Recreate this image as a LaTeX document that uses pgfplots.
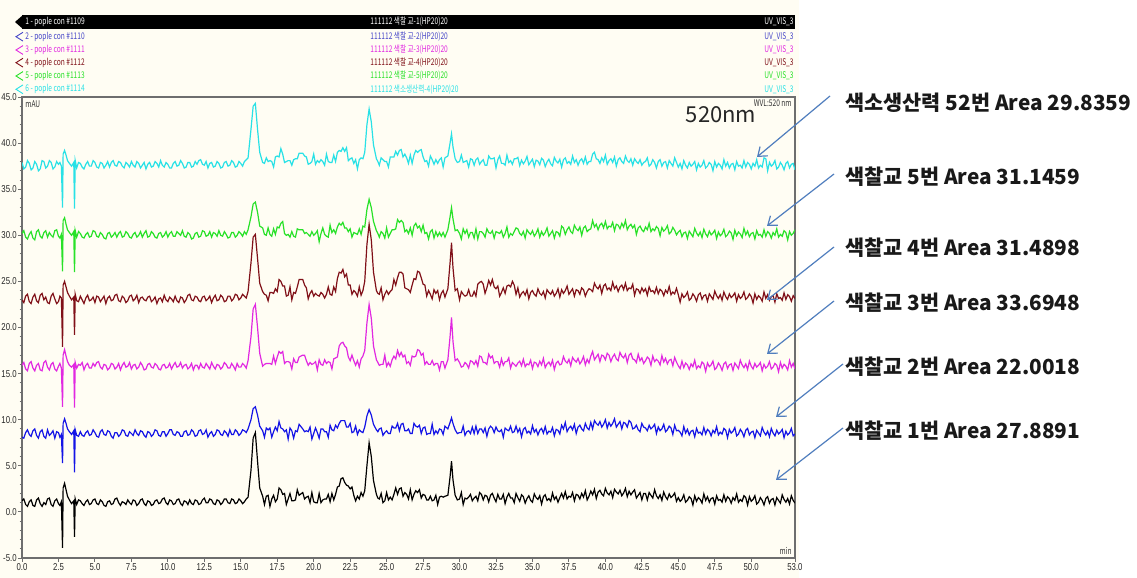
\documentclass[border=0pt]{standalone}
\usepackage{fontspec}
\usepackage{pgfplots}
\pgfplotsset{compat=1.18}
\usepackage{pgfplotstable}
\usetikzlibrary{arrows.meta}
\setmainfont{Liberation Sans}
\newfontfamily\kr{Noto Sans CJK KR}
\newfontfamily\hdr[FakeStretch=0.72]{Noto Sans CJK KR}
\newfontfamily\tk[FakeStretch=0.78]{Liberation Sans}
\definecolor{cream}{RGB}{255,253,243}
\definecolor{cB}{RGB}{20,20,230}
\definecolor{cC}{RGB}{225,40,225}
\definecolor{cD}{RGB}{128,16,24}
\definecolor{cE}{RGB}{40,225,40}
\definecolor{cF}{RGB}{40,225,230}
\definecolor{hB}{RGB}{70,70,200}
\definecolor{steel}{RGB}{80,126,190}
\definecolor{axgray}{RGB}{110,110,110}

\pgfplotstableread{
t a b c d e f
0.00 1.2 8.1 15.9 23.0 30.2 37.9
0.125 1.4 8.0 16.2 22.7 30.5 37.2
0.25 0.8 8.6 15.5 23.4 29.8 37.4
0.375 0.6 8.9 15.3 23.6 29.6 38.1
0.50 1.1 8.4 16.1 22.8 30.1 37.8
0.625 1.3 8.2 16.3 22.6 30.4 37.1
0.75 0.7 8.8 15.6 23.3 29.7 37.3
0.875 0.6 9.0 15.3 23.6 29.5 38.0
1.00 1.3 8.3 15.9 22.9 30.4 37.7
1.125 1.5 8.0 16.1 22.7 30.6 37.0
1.25 0.9 8.7 15.4 23.5 29.9 37.2
1.375 0.6 8.9 15.3 23.7 29.7 38.1
1.50 1.0 8.2 16.2 23.0 30.3 38.0
1.625 0.8 8.0 16.4 23.3 30.5 37.3
1.75 1.4 8.9 15.7 22.7 29.8 37.5
1.875 1.5 8.3 15.4 22.6 30.3 38.1
2.00 0.8 8.5 16.0 23.4 30.0 37.9
2.125 0.6 8.8 16.2 23.7 29.8 37.2
2.25 1.2 8.0 15.5 23.1 30.5 37.4
2.375 1.4 8.7 15.3 22.6 30.6 38.0
2.50 0.9 8.6 15.8 22.8 29.9 37.7
2.60 0.7 8.1 16.1 23.4 29.7 37.9
2.70 1.1 8.4 15.6 23.2 30.1 37.5
2.78 -3.9 5.3 11.4 17.9 26.1 33.0
2.82 2.6 9.6 17.0 24.6 31.6 38.8
2.92 3.1 10.1 17.6 25.0 31.9 39.2
3.02 2.4 9.6 16.9 24.4 31.2 38.7
3.12 1.7 9.0 16.3 23.8 30.6 38.1
3.25 1.3 8.7 15.9 23.4 30.3 37.8
3.40 0.9 8.4 15.7 23.0 30.0 37.5
3.55 1.2 8.8 16.0 23.3 30.4 37.9
3.60 -2.7 4.3 11.3 19.2 26.0 32.9
3.65 1.4 8.9 16.2 23.6 30.5 38.1
3.75 0.8 8.3 15.6 22.9 29.8 37.3
3.875 1.3 8.2 16.0 22.8 30.4 37.9
4.00 1.2 8.7 15.9 23.4 30.2 37.8
4.125 0.9 8.3 16.2 23.0 29.8 37.4
4.25 0.7 8.2 15.4 22.6 29.7 37.2
4.375 1.1 8.6 15.9 23.2 30.1 37.7
4.50 1.3 8.8 16.1 23.5 30.3 38.0
4.625 0.8 8.3 15.6 22.9 29.8 37.5
4.75 0.9 8.4 15.6 23.0 29.9 37.5
4.875 1.3 8.9 16.1 23.3 30.5 38.1
5.00 1.4 8.6 15.8 22.7 30.4 37.9
5.125 0.9 8.2 16.2 23.4 29.9 37.4
5.25 0.8 8.1 16.3 23.3 29.8 37.3
5.375 1.3 8.7 15.7 22.8 30.3 37.9
5.50 1.1 8.9 15.5 23.1 30.1 37.8
5.625 0.7 8.4 16.0 23.4 29.7 37.3
5.75 0.6 8.3 15.9 22.6 29.6 37.6
5.875 1.1 8.8 15.4 23.2 30.2 38.0
6.00 1.2 8.7 15.6 23.4 30.3 37.4
6.125 0.8 8.2 16.1 22.9 29.8 37.9
6.25 0.9 8.0 16.0 23.0 30.0 38.1
6.375 1.4 8.6 15.5 23.5 30.3 37.6
6.50 1.5 8.6 15.7 23.6 29.8 37.5
6.625 1.0 8.2 16.1 22.9 30.2 38.0
6.75 0.7 8.4 15.4 22.8 30.4 37.9
6.875 1.1 8.9 15.9 23.4 29.8 37.5
7.00 1.0 8.8 16.2 23.2 29.9 37.3
7.125 0.8 8.3 15.7 22.7 30.4 37.9
7.25 1.3 8.2 15.8 22.9 30.2 37.7
7.375 1.0 8.7 16.2 23.4 29.8 37.4
7.50 0.8 8.5 15.5 23.5 29.7 38.0
7.625 1.3 8.3 15.9 22.9 30.1 37.6
7.75 1.2 8.9 16.0 23.1 30.3 37.4
7.875 0.7 8.5 15.5 23.5 29.8 38.0
8.00 0.9 8.3 15.7 22.7 30.0 37.8
8.125 1.3 8.8 16.2 23.2 30.4 37.3
8.25 1.4 8.7 15.9 23.3 29.8 37.6
8.375 0.9 8.3 15.4 23.0 30.2 37.9
8.50 0.7 8.1 15.5 22.9 30.5 37.2
8.625 1.2 8.7 16.0 23.3 29.8 37.7
8.75 1.1 8.6 16.1 23.4 29.9 37.9
8.875 0.7 8.2 15.7 22.8 30.4 37.4
9.00 0.8 8.4 15.6 23.0 30.2 37.5
9.125 1.2 8.9 16.1 23.3 29.8 38.0
9.25 1.3 8.8 15.9 22.6 29.7 37.8
9.375 0.9 8.3 15.5 23.1 30.2 37.4
9.50 1.0 8.2 15.4 23.2 30.3 38.1
9.625 1.4 8.7 15.9 22.8 29.8 37.6
9.75 1.5 8.7 16.0 23.5 30.0 37.4
9.875 1.0 8.2 15.6 23.0 30.4 37.9
10.00 0.8 8.5 15.7 22.8 29.8 37.7
10.125 1.3 8.9 16.1 23.3 30.2 37.3
10.25 1.2 8.9 15.5 23.1 30.4 37.3
10.375 0.8 8.4 15.9 22.8 29.9 37.8
10.50 0.9 8.3 16.2 23.4 29.9 38.0
10.625 1.3 8.7 15.7 22.9 30.4 37.5
10.75 1.4 8.6 15.8 22.7 30.2 37.6
10.875 0.9 8.2 16.2 23.3 30.0 38.1
11.00 0.7 8.2 15.6 23.2 30.5 37.8
11.125 1.2 8.7 15.9 22.7 29.9 37.3
11.25 1.1 8.8 16.0 23.0 29.8 37.4
11.375 0.8 8.3 15.5 23.5 30.3 37.9
11.50 1.3 8.4 15.7 23.6 30.1 37.9
11.625 0.9 8.9 16.1 23.0 29.6 37.4
11.75 0.8 8.7 15.4 22.9 29.7 37.5
11.875 1.3 8.2 15.9 23.4 30.2 38.0
12.00 1.2 8.3 15.9 23.3 30.3 37.7
12.125 0.8 8.8 15.5 22.9 29.8 38.1
12.25 0.9 8.9 16.1 22.8 29.9 38.2
12.375 1.3 8.4 15.7 23.3 30.5 37.7
12.50 1.5 8.5 15.6 23.4 30.4 37.6
12.625 1.0 8.9 16.1 22.9 29.9 38.0
12.75 1.0 8.1 15.8 23.1 30.0 37.3
12.875 1.4 8.5 15.5 23.4 30.4 37.8
13.00 1.3 8.7 16.2 22.7 29.8 37.9
13.125 0.9 8.2 15.8 23.2 30.3 37.4
13.25 0.8 8.4 15.5 23.5 30.2 37.5
13.375 1.3 8.9 16.0 22.9 29.9 38.0
13.50 1.2 8.8 15.9 23.0 30.5 37.8
13.625 0.8 8.4 15.5 23.5 30.0 37.3
13.75 1.0 8.3 15.7 23.3 29.9 37.4
13.875 1.4 8.8 16.2 22.8 30.4 37.9
14.00 1.4 8.6 16.0 22.9 30.1 38.0
14.125 1.0 8.2 15.6 23.4 29.7 37.5
14.25 0.9 8.9 15.6 23.4 29.8 37.6
14.375 1.4 8.4 16.1 22.9 30.3 38.1
14.50 1.3 8.4 15.8 23.1 30.3 37.9
14.625 0.9 8.9 15.4 23.6 29.8 37.4
14.75 1.0 8.7 16.1 23.5 30.0 37.5
14.875 1.4 8.3 15.7 23.0 30.4 38.0
15.00 1.2 8.5 15.7 23.2 30.2 37.8
15.125 0.9 8.9 16.1 23.6 29.9 37.5
15.25 1.1 8.8 15.9 23.4 30.4 38.0
15.375 1.4 8.6 15.6 23.2 30.1 38.2
15.50 1.6 9.0 16.4 23.9 30.6 38.4
15.70 4.5 10.0 19.0 27.0 32.0 41.5
15.85 8.0 11.2 22.0 29.8 33.4 44.0
16.00 8.6 11.4 22.5 30.1 33.6 44.3
16.15 5.5 10.5 20.0 27.5 32.5 41.5
16.30 2.6 9.3 17.2 24.8 31.0 39.0
16.50 1.7 8.8 15.8 23.9 30.8 37.9
16.625 0.8 8.1 16.0 23.6 30.1 37.8
16.75 1.7 9.1 16.1 23.5 30.0 38.4
16.875 1.8 8.9 16.1 22.9 30.8 38.0
17.00 0.6 9.1 16.1 23.8 30.1 38.1
17.125 1.4 8.1 16.0 23.8 29.9 38.0
17.25 1.8 8.7 16.9 23.7 30.7 37.4
17.375 1.1 9.2 16.1 24.2 30.1 38.5
17.50 1.4 8.8 16.8 23.9 30.9 38.6
17.625 2.6 9.8 17.4 25.2 30.8 38.5
17.75 2.4 9.1 17.2 25.0 31.3 39.4
17.875 1.9 9.0 17.4 24.5 31.5 38.8
18.00 2.0 8.7 16.1 24.5 30.2 37.9
18.125 0.8 8.9 16.3 23.4 30.0 38.0
18.25 1.4 7.9 16.3 23.5 30.1 38.1
18.375 2.0 9.1 16.2 24.4 29.8 38.1
18.50 1.2 8.8 15.5 23.0 30.4 37.6
18.625 1.2 8.0 16.6 23.8 29.9 38.2
18.75 1.3 8.8 16.2 23.7 29.8 38.3
18.875 2.4 8.7 16.2 24.4 30.7 38.3
19.00 1.8 9.5 16.8 25.2 30.6 38.9
19.25 2.1 9.0 17.0 25.2 30.6 38.9
19.375 1.4 8.7 17.0 24.6 30.2 38.6
19.50 1.6 8.8 16.4 24.3 30.3 38.5
19.625 1.7 8.7 15.9 23.1 30.1 37.7
19.75 1.0 9.2 16.2 23.7 29.9 37.8
19.875 2.1 7.9 16.0 24.0 30.4 38.0
20.00 1.1 8.5 16.1 23.4 30.0 38.8
20.125 1.0 9.1 16.3 23.7 30.2 37.7
20.25 1.0 8.6 15.4 23.5 30.5 38.1
20.375 2.0 8.0 16.5 23.4 29.3 37.9
20.50 1.0 9.0 16.0 23.8 30.2 38.2
20.625 1.3 9.0 15.9 23.6 30.8 38.0
20.75 1.4 8.7 16.5 23.2 30.1 37.6
20.875 1.4 8.7 16.1 23.6 29.9 38.8
21.00 1.9 8.1 16.3 24.4 29.8 38.0
21.125 1.1 9.4 16.2 23.6 31.1 37.9
21.25 2.0 8.9 15.5 23.5 30.3 37.9
21.375 1.3 8.8 16.6 24.4 30.6 38.7
21.50 1.9 9.4 16.7 23.9 30.2 38.0
21.625 2.7 9.1 16.8 25.3 30.9 39.0
21.75 2.8 9.6 18.0 26.0 31.3 39.2
21.875 3.6 9.9 18.3 25.9 31.1 39.1
22.00 3.7 9.9 18.4 26.3 31.4 39.5
22.125 3.2 9.9 18.0 25.5 30.8 39.1
22.25 2.9 9.2 17.8 25.8 30.8 39.5
22.375 2.8 9.2 16.8 24.6 30.4 38.1
22.50 2.5 9.6 16.4 24.6 30.7 38.3
22.625 2.7 8.6 17.0 23.6 29.8 38.4
22.75 1.8 8.7 16.4 24.0 30.3 37.8
22.875 1.2 9.3 15.9 23.8 30.2 38.2
23.00 1.7 8.4 16.4 23.4 30.1 37.2
23.125 1.4 8.9 15.7 24.4 30.7 38.2
23.25 2.1 8.7 16.6 23.5 30.1 38.4
23.375 1.7 8.6 16.9 24.0 31.0 38.3
23.50 2.3 9.2 17.5 25.0 30.9 39.0
23.65 5.0 10.4 20.5 29.0 32.8 42.0
23.80 7.5 11.1 22.5 31.2 33.9 43.7
23.95 6.0 10.5 21.0 29.5 33.0 42.3
24.10 3.4 9.5 18.0 26.0 31.5 39.8
24.30 1.9 8.9 16.5 24.0 30.5 38.3
24.40 1.5 8.7 16.2 23.7 30.2 38.0
24.50 1.4 9.0 15.9 23.6 29.8 37.6
24.625 2.0 9.1 16.0 24.3 30.4 38.4
24.75 1.0 8.3 16.0 23.0 30.2 38.2
24.875 1.2 8.6 17.0 23.6 29.7 38.0
25.00 2.1 8.8 15.8 24.0 30.8 38.0
25.125 1.3 8.5 16.2 23.6 29.8 37.4
25.25 1.6 8.5 15.8 23.9 30.2 38.5
25.375 1.3 9.3 16.5 24.1 30.6 38.5
25.50 1.9 9.1 16.9 25.2 30.6 38.5
25.625 2.6 9.1 16.6 24.6 30.7 39.1
25.75 1.9 9.6 17.5 25.4 31.7 38.7
25.875 2.5 8.8 16.9 26.0 31.4 39.2
26.00 2.6 9.5 17.3 26.0 31.6 39.3
26.125 1.7 9.6 16.8 25.8 31.4 38.5
26.25 2.1 8.8 17.0 24.3 30.4 38.8
26.375 1.9 8.8 16.1 24.2 30.6 38.4
26.50 1.4 9.0 16.3 24.1 30.2 37.8
26.625 2.4 8.5 15.9 23.8 30.8 38.7
26.75 1.3 8.5 16.9 24.6 30.0 37.8
26.875 1.9 9.6 16.8 25.3 31.0 38.7
27.00 2.3 9.3 16.9 25.2 31.3 39.2
27.125 2.1 9.2 17.6 26.1 30.8 39.0
27.25 2.4 9.4 17.5 26.0 31.0 39.2
27.375 1.5 8.5 17.0 25.4 30.4 39.3
27.50 1.9 9.1 17.2 24.7 31.1 38.5
27.625 1.8 9.2 16.0 24.6 30.2 38.0
27.75 1.3 8.4 16.3 23.4 30.3 38.1
27.875 1.3 8.5 16.0 24.0 29.6 37.5
28.00 1.7 8.5 16.0 23.6 30.4 38.6
28.125 1.2 9.5 16.4 23.1 30.6 38.2
28.25 1.3 8.4 15.9 24.1 29.7 37.7
28.375 1.8 8.8 16.1 23.7 30.4 38.2
28.50 0.8 8.5 16.1 24.0 29.9 37.8
28.625 1.6 9.0 15.4 23.0 30.3 38.2
28.75 1.7 8.9 16.3 23.7 29.9 38.4
28.875 1.6 8.4 16.3 24.0 30.3 37.4
29.00 1.7 9.3 15.6 23.3 29.8 38.4
29.20 1.8 9.0 16.5 24.2 30.6 38.6
29.35 3.8 9.7 19.0 27.0 32.0 40.0
29.45 5.5 10.2 21.1 29.2 33.0 41.0
29.55 3.5 9.6 18.5 26.5 31.8 39.6
29.70 1.8 8.9 16.4 24.0 30.5 38.3
29.85 1.3 8.5 16.6 24.2 30.6 37.9
30.00 1.4 8.6 16.2 23.0 30.2 38.0
30.125 2.1 8.6 15.7 23.9 29.6 38.7
30.25 0.8 9.3 15.8 23.6 30.7 37.9
30.375 1.5 8.3 16.2 23.4 30.2 38.0
30.50 1.4 8.7 16.0 23.5 30.6 38.1
30.625 1.6 8.8 15.6 24.1 29.8 37.4
30.75 1.9 8.5 16.4 23.4 30.3 38.3
30.875 1.2 9.2 16.3 23.4 30.3 38.2
31.00 1.5 8.5 16.0 23.9 29.7 37.6
31.125 1.7 9.3 16.4 23.4 30.7 38.2
31.25 1.2 8.5 15.8 24.7 29.6 38.4
31.375 2.1 9.0 16.9 24.9 30.4 37.7
31.50 1.9 9.0 16.8 25.0 30.4 38.0
31.625 1.3 8.6 16.2 24.7 30.2 38.2
31.75 1.8 9.1 16.2 23.7 29.8 37.6
31.875 1.7 8.2 16.0 24.3 30.7 37.6
32.00 1.1 9.0 17.1 25.1 30.3 38.6
32.125 1.8 9.3 16.7 24.6 30.2 38.3
32.25 2.0 9.1 16.9 25.2 30.5 38.3
32.375 1.5 8.6 16.1 24.4 29.7 38.4
32.50 1.1 9.2 16.3 24.2 30.4 37.3
32.625 1.9 8.8 16.3 24.5 30.3 38.2
32.75 1.4 8.7 15.7 23.4 30.2 38.6
32.875 1.4 8.9 16.6 23.8 30.5 37.8
33.00 1.9 8.1 15.9 24.3 29.8 37.8
33.125 0.9 9.1 16.3 23.7 30.2 37.6
33.25 1.6 8.9 16.3 24.5 30.9 38.7
33.375 2.0 8.8 16.7 24.6 29.8 37.9
33.50 1.5 9.3 15.6 24.4 30.2 38.1
33.625 1.5 8.6 16.2 25.0 30.0 37.7
33.75 1.0 8.7 16.0 24.6 30.4 38.3
33.875 2.0 9.3 15.8 23.6 30.8 38.3
34.000 1.55 8.65 16.15 24.3 30.7 38.45
34.125 1.15 9.05 16.35 23.3 30.2 37.55
34.250 1.85 8.15 15.85 23.7 30.0 38.15
34.375 1.65 8.95 16.55 23.9 30.4 37.75
34.500 0.95 9.15 15.75 23.5 29.7 38.05
34.625 1.45 8.55 16.05 24.1 30.6 38.55
34.750 1.75 8.75 15.95 23.1 30.3 37.65
34.875 1.25 8.45 16.45 23.8 30.1 37.95
35.000 1.05 9.35 15.55 24.0 30.5 38.25
35.125 1.95 8.65 16.25 23.6 29.9 37.45
35.250 1.55 8.95 16.15 23.4 30.2 38.15
35.375 1.35 8.35 15.75 24.2 30.7 38.05
35.500 1.75 8.85 16.35 23.7 29.8 37.65
35.625 0.85 9.05 15.95 23.5 30.4 38.35
35.750 1.65 8.55 16.65 23.9 30.0 38.15
35.875 1.85 9.25 15.65 23.2 30.3 37.45
36.000 1.25 8.45 16.05 24.1 30.8 37.95
36.125 1.45 8.75 16.25 23.8 29.9 38.25
36.250 1.15 8.65 15.85 23.6 30.2 37.75
36.375 2.05 9.15 16.45 24.0 30.5 37.55
36.500 1.35 8.25 15.45 23.4 29.7 38.45
36.625 1.65 8.95 16.15 23.7 30.4 38.05
36.750 1.05 8.85 16.35 24.2 30.3 37.85
36.875 1.55 8.45 15.95 23.3 29.9 38.25
37.000 2.0 9.4 16.05 24.1 31.0 37.4
37.125 1.5 9.0 16.85 23.7 30.8 38.2
37.250 2.2 9.7 16.35 24.0 30.1 38.4
37.375 1.4 8.7 16.15 24.5 30.6 37.8
37.500 1.7 9.1 16.55 23.6 30.9 38.0
37.625 1.6 9.3 15.85 23.9 30.4 37.7
37.750 2.1 8.9 16.75 24.2 30.2 38.6
37.875 1.2 9.5 16.45 23.4 31.1 37.9
38.000 1.9 8.5 16.25 24.1 30.7 38.2
38.125 1.8 9.2 16.65 24.0 30.5 37.6
38.250 1.4 9.4 16.05 23.6 30.9 38.1
38.375 2.0 9.0 16.35 24.3 30.0 38.3
38.500 1.6 8.8 16.85 24.1 30.8 37.8
38.625 2.3 9.6 15.95 23.4 31.0 38.5
38.750 1.3 9.1 16.55 23.9 30.4 37.7
38.875 1.7 8.9 16.15 24.2 30.6 38.0
39.000 2.25 9.7 16.9 24.1 30.7 38.0
39.125 1.85 9.0 17.4 23.9 31.6 38.8
39.250 2.45 9.9 16.5 24.8 30.9 39.0
39.375 1.45 9.6 16.8 24.4 31.2 38.3
39.500 2.15 9.4 17.1 24.2 30.6 38.2
39.625 2.35 9.8 16.3 24.6 31.1 37.8
39.750 1.95 9.2 17.0 23.7 31.3 38.4
39.875 1.75 9.5 16.9 24.5 30.8 38.0
40.000 2.55 10.0 16.5 24.7 31.5 38.7
40.125 2.05 9.1 17.2 24.1 30.7 37.7
40.250 1.85 9.7 17.0 24.3 31.0 38.1
40.375 2.25 9.3 16.3 24.0 30.9 38.3
40.500 1.55 9.6 16.8 24.9 31.4 37.9
40.625 2.45 10.1 17.1 24.2 30.5 38.5
40.750 2.15 9.2 16.6 24.5 31.2 37.5
40.875 1.95 9.5 16.4 23.9 31.1 38.2
41.000 2.35 9.8 17.3 24.4 30.7 38.4
41.125 1.75 9.0 16.9 24.6 31.3 38.0
41.250 2.05 9.7 16.7 24.1 30.9 37.8
41.375 2.55 9.6 17.1 24.8 31.6 38.6
41.500 1.65 9.2 16.2 24.0 30.6 38.1
41.625 2.25 9.9 17.0 24.3 31.0 37.9
41.750 1.85 9.7 17.2 24.2 31.2 38.3
41.875 2.15 9.0 16.6 24.7 30.8 37.6
42.000 2.4 9.1 16.5 23.5 31.1 38.3
42.125 1.5 9.4 16.2 24.2 30.1 38.0
42.250 1.8 8.9 17.1 24.1 30.8 37.8
42.375 2.1 8.7 16.4 23.7 31.0 38.2
42.500 1.3 9.6 16.7 24.3 30.6 37.6
42.625 2.0 9.2 16.1 23.9 30.4 37.9
42.750 2.0 9.1 16.4 24.2 30.9 38.0
42.875 1.3 8.8 16.8 23.5 30.6 38.4
43.000 2.1 9.4 16.6 24.4 31.3 37.5
43.125 1.8 9.0 15.9 23.9 30.4 37.7
43.250 1.5 9.2 16.9 24.0 30.7 38.2
43.375 2.4 9.5 16.3 23.7 30.5 37.9
43.500 1.75 8.5 16.55 24.35 30.95 37.3
43.625 1.45 9.2 16.35 23.65 30.75 38.0
43.750 1.85 8.8 15.95 24.15 29.95 38.2
43.875 1.25 9.0 16.95 23.95 30.85 37.5
44.000 2.15 9.5 16.25 23.45 30.45 37.9
44.125 1.65 8.7 16.65 24.05 30.65 38.0
44.250 1.35 8.9 16.05 23.75 31.05 37.3
44.375 1.95 9.3 16.45 24.45 30.15 38.1
44.500 1.55 9.1 16.55 23.55 30.35 37.8
44.625 1.75 8.4 15.85 23.85 30.85 37.5
44.750 2.05 9.4 16.75 23.65 30.55 38.4
44.875 1.15 8.8 16.25 24.25 30.05 37.9
45.000 1.55 8.85 15.85 23.55 30.35 37.4
45.125 1.15 8.65 15.55 22.75 30.55 37.8
45.250 1.35 8.25 16.35 23.65 29.85 37.2
45.375 1.85 9.25 15.65 23.25 30.25 38.1
45.500 1.05 8.55 16.15 23.45 30.35 37.6
45.625 1.25 8.95 15.95 23.85 29.65 37.3
45.750 1.65 8.35 15.45 22.95 30.45 37.9
45.875 1.45 8.75 16.05 23.15 30.15 37.5
46.000 0.75 8.85 15.75 23.65 29.85 37.7
46.125 1.75 8.15 16.45 23.35 30.75 38.0
46.250 1.15 9.05 15.55 22.85 30.25 37.1
46.375 1.55 8.55 15.85 23.55 29.95 37.8
46.500 1.35 8.65 15.65 23.75 30.35 37.4
46.625 0.95 8.35 16.25 23.05 29.75 37.6
46.750 1.95 9.15 16.05 23.45 30.65 38.1
46.875 1.25 8.45 15.25 23.55 30.15 37.3
47.000 1.65 8.95 16.15 22.85 29.85 37.5
47.125 1.05 8.75 15.75 23.65 30.45 37.9
47.250 1.45 8.25 15.95 23.35 30.05 37.7
47.375 1.55 8.85 16.35 23.05 30.25 37.0
47.500 0.85 8.55 15.45 23.95 30.55 38.0
47.625 1.75 9.25 15.65 23.45 29.65 37.4
47.750 1.25 8.35 16.15 23.15 30.35 37.8
47.875 1.35 8.65 15.85 23.55 29.95 37.6
48.000 1.05 8.45 15.35 22.95 30.15 37.2
48.125 1.85 9.05 16.05 23.85 30.65 38.2
48.250 1.15 8.85 16.25 23.35 29.85 37.5
48.375 1.65 8.05 15.55 23.05 30.05 37.9
48.500 1.45 8.95 15.95 23.65 30.45 37.3
48.625 0.95 8.55 16.05 23.25 30.25 37.7
48.750 1.55 8.75 15.35 23.45 29.55 37.8
48.875 1.25 9.15 16.15 23.75 30.55 37.1
49.000 1.95 8.25 15.85 22.85 29.95 38.0
49.125 1.05 8.45 15.55 23.55 30.35 37.5
49.250 1.35 8.95 16.45 23.15 30.15 37.6
49.375 1.15 8.65 15.95 23.35 29.75 37.3
49.500 1.75 8.15 15.65 23.85 30.75 38.1
49.625 1.55 8.85 16.05 23.05 30.05 37.4
49.750 0.75 9.05 15.45 23.25 30.45 37.9
49.875 1.65 8.35 16.35 23.65 29.85 37.7
50.000 1.15 8.65 15.8 23.35 30.2 37.2
50.125 1.35 8.75 15.5 22.65 30.3 37.8
50.250 1.75 8.05 16.1 23.65 29.6 37.5
50.375 0.85 8.85 15.7 23.05 30.5 38.2
50.500 1.05 8.55 15.9 23.45 30.0 37.3
50.625 1.55 8.25 16.2 23.25 30.1 37.6
50.750 1.25 9.15 15.3 22.85 29.8 37.4
50.875 0.75 8.65 16.0 23.85 30.6 38.4
51.000 1.45 8.35 15.6 23.15 29.9 38.3
51.125 1.65 8.75 15.8 23.55 30.4 37.0
51.250 0.95 8.15 16.3 22.95 30.2 37.9
51.375 1.35 9.05 15.5 23.35 29.7 37.5
51.500 1.45 8.55 15.7 23.45 30.3 37.7
51.625 0.75 8.25 16.1 22.75 30.0 38.1
51.750 1.55 8.85 15.9 23.65 30.7 37.2
51.875 1.25 8.45 15.2 23.15 29.8 37.4
52.000 0.95 8.65 16.2 23.25 30.1 37.9
52.125 1.85 8.95 15.6 22.95 29.9 37.6
52.250 1.35 8.05 16.0 23.75 30.5 37.1
52.375 1.05 8.75 15.8 23.05 30.3 37.8
52.500 1.45 8.35 15.4 23.55 29.5 38.0
52.625 0.85 8.55 16.4 23.35 30.4 37.3
52.750 1.75 9.05 15.7 22.85 30.0 37.7
52.875 1.25 8.25 16.1 23.45 30.2 37.8
53.000 0.95 8.45 15.5 23.15 30.6 37.1
}\chrom

\begin{document}
\begin{tikzpicture}[x=1pt,y=1pt]
\path[use as bounding box, fill=white] (0,0) rectangle (568.5,289);
\fill[cream] (0,0) rectangle (399.5,289);
\begin{axis}[
  at={(11pt,10pt)}, anchor=south west,
  scale only axis, width=386.5pt, height=230.5pt,
  xmin=0, xmax=53, ymin=-5, ymax=45,
  axis background/.style={fill=cream},
  axis line style={draw=axgray, line width=0.6pt},
  xtick={0,2.5,5,7.5,10,12.5,15,17.5,20,22.5,25,27.5,30,32.5,35,37.5,40,42.5,45,47.5,50,53},
  ytick={-5,0,5,10,15,20,25,30,35,40,45},
  minor x tick num=4, minor y tick num=4,
  tick pos=left, tick align=outside,
  major tick length=2pt, minor tick length=1.2pt,
  tick style={draw=axgray, line width=0.45pt},
  scaled ticks=false,
  /pgf/number format/fixed, /pgf/number format/fixed zerofill,
  /pgf/number format/precision=1, /pgf/number format/assume math mode=true,
  xticklabel style={font=\tk\fontsize{5}{6}\selectfont, inner sep=0.5pt, text=black!85},
  yticklabel style={font=\tk\fontsize{5}{6}\selectfont, inner sep=0.5pt, text=black!85},
  clip=true,
]
\addplot[cF, line width=0.6pt] table[x=t, y=f] {\chrom};
\addplot[cE, line width=0.6pt] table[x=t, y=e] {\chrom};
\addplot[cD, line width=0.6pt] table[x=t, y=d] {\chrom};
\addplot[cC, line width=0.6pt] table[x=t, y=c] {\chrom};
\addplot[cB, line width=0.6pt] table[x=t, y=b] {\chrom};
\addplot[black, line width=0.6pt] table[x=t, y=a] {\chrom};
\end{axis}
% header box
\fill[cream] (11,240.8) rectangle (397.5,283);
\draw[axgray, line width=0.6pt] (11,240.5) -- (397.5,240.5);
\fill[black] (11,274.5) rectangle (397.5,281.5);
\fill[black] (7.5,278) -- (11.5,281.5) -- (11.5,274.5) -- cycle;
\foreach \yy/\cc in {270.65/hB,264/cC,257.65/cD,251/cE,244.35/cF}{
  \draw[\cc, line width=0.45pt] (11.5,\yy+2.2) -- (8,\yy) -- (11.5,\yy-2.2);
}
\begin{scope}[every node/.style={inner sep=0, font=\hdr\fontsize{4.6}{5}\selectfont}]
\node[anchor=west, text=white] at (12.5,278) {1 - pople con \#1109};
\node[anchor=west, text=hB] at (12.5,270.65) {2 - pople con \#1110};
\node[anchor=west, text=cC] at (12.5,264) {3 - pople con \#1111};
\node[anchor=west, text=cD] at (12.5,257.65) {4 - pople con \#1112};
\node[anchor=west, text=cE] at (12.5,251) {5 - pople con \#1113};
\node[anchor=west, text=cF] at (12.5,244.35) {6 - pople con \#1114};
\node[anchor=west, text=white] at (185,278) {111112 색찰 교-1(HP20)20};
\node[anchor=west, text=hB] at (185,270.65) {111112 색찰 교-2(HP20)20};
\node[anchor=west, text=cC] at (185,264) {111112 색찰 교-3(HP20)20};
\node[anchor=west, text=cD] at (185,257.65) {111112 색찰 교-4(HP20)20};
\node[anchor=west, text=cE] at (185,251) {111112 색찰 교-5(HP20)20};
\node[anchor=west, text=cF] at (185,244.35) {111112 색소생산력-4(HP20)20};
\node[anchor=east, text=white] at (397,278) {UV\_VIS\_3};
\node[anchor=east, text=hB] at (397,270.65) {UV\_VIS\_3};
\node[anchor=east, text=cC] at (397,264) {UV\_VIS\_3};
\node[anchor=east, text=cD] at (397,257.65) {UV\_VIS\_3};
\node[anchor=east, text=cE] at (397,251) {UV\_VIS\_3};
\node[anchor=east, text=cF] at (397,244.35) {UV\_VIS\_3};
\node[anchor=north west, text=black!80] at (12.5,239) {mAU};
\node[anchor=north east, text=black!80] at (396,239.2) {WVL:520 nm};
\node[anchor=south east, text=black!80] at (396,11.5) {min};
\end{scope}
\node[font=\kr\fontsize{11}{12}\selectfont, text=black!85, inner sep=0] at (360.5,231.5) {520nm};
% annotations
\begin{scope}[every node/.style={anchor=west, inner sep=0, font=\kr\bfseries\fontsize{10.4}{11}\selectfont, text=black!90}]
\node at (422.5,237.5) {색소생산력 52번 Area 29.8359};
\node at (422.5,200.75) {색찰교 5번 Area 31.1459};
\node at (422.5,165) {색찰교 4번 Area 31.4898};
\node at (422.5,137.75) {색찰교 3번 Area 33.6948};
\node at (422.5,105.75) {색찰교 2번 Area 22.0018};
\node at (422.5,73.75) {색찰교 1번 Area 27.8891};
\end{scope}
\begin{scope}[steel, line width=0.6pt, -{Straight Barb[length=4pt,width=6pt]}]
\draw (415,241) -- (378.5,210.5);
\draw (417,202) -- (383.5,176);
\draw (417,165.5) -- (383.5,139);
\draw (417,138.5) -- (383.5,112);
\draw (421.5,107) -- (388,80.5);
\draw (421.5,75) -- (388,49);
\end{scope}
\end{tikzpicture}
\end{document}
